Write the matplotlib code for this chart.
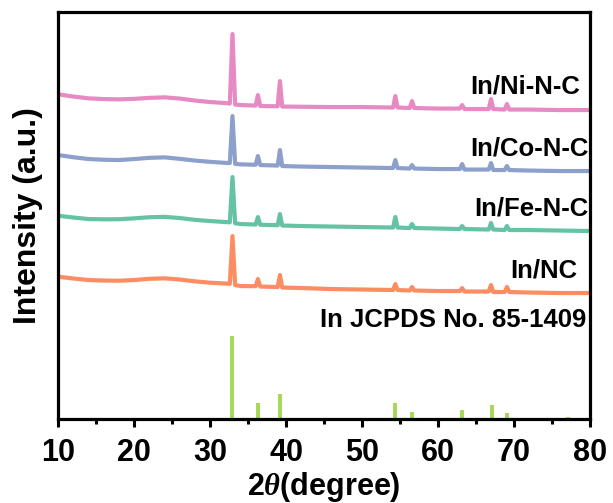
import matplotlib
matplotlib.use("Agg")
import matplotlib.pyplot as plt

plt.rcParams['font.family'] = ['Liberation Sans', 'DejaVu Sans']
plt.rcParams['font.weight'] = 'bold'
plt.rcParams['mathtext.fontset'] = 'custom'
plt.rcParams['mathtext.rm'] = 'Liberation Serif'
plt.rcParams['mathtext.it'] = 'Liberation Serif:italic'

# 2theta sample points (deg), shared by all patterns
two_theta = [10, 12, 14, 16, 18, 20, 22, 24, 26, 28, 30, 32,
             32.6, 32.95, 33.3, 34,
             36.0, 36.3, 36.6, 38.9, 39.2, 39.5, 42, 46, 50,
             54.1, 54.4, 54.7, 56.3, 56.6, 56.9, 60, 62.9, 63.2, 63.5,
             66.7, 67.0, 67.3, 68.8, 69.1, 69.4, 72, 76, 80]

# intensities (a.u., already stacked)
in_nc = [142.3, 140.5, 139, 138.5, 138.3, 139, 140.2, 140.7, 139.5, 137.7, 136.3, 135.5,
         135.2, 183, 134, 133,
         132.8, 140, 132.5, 132, 144, 131.5, 131, 130, 129.5,
         129, 135, 129, 128.5, 132, 128.5, 128, 128, 131, 127.5,
         127.5, 134, 127, 127, 132, 127, 126.5, 126, 126]
in_fe = [203.3, 201.5, 200, 199.7, 199.8, 200.7, 201.8, 202.2, 201, 199.2, 198, 197,
         196.7, 242, 195.8, 195,
         194.5, 202, 194.3, 193.8, 205, 193.5, 193, 192.5, 192,
         191.5, 202, 191.5, 191, 195, 191, 190.5, 190, 193, 190,
         189.5, 196, 189.5, 189, 193, 189, 189, 188.5, 188]
in_co = [264, 261.8, 260, 259.3, 259, 260, 261.2, 261.7, 260.2, 258.5, 257.2, 256.2,
         256, 303, 255.2, 254.7,
         254.3, 263, 254, 253.5, 269, 253, 252.5, 252, 251.5,
         251, 259, 251, 250.5, 254, 250.5, 250, 250, 255, 249.5,
         249.5, 256, 249, 249, 253, 249, 248.5, 248, 248]
in_ni = [324.7, 322.5, 320.7, 320, 319.7, 320.2, 321.2, 321.7, 320.5, 318.5, 317, 316,
         315.5, 385, 314.5, 314,
         313.5, 324, 313, 312.8, 338, 312.5, 312.3, 312, 312,
         311.5, 323, 311.5, 311, 318, 311, 310.5, 310.5, 314, 310,
         310, 320, 310, 309.5, 315, 309.5, 309.5, 309, 309]

# reference card In JCPDS 85-1409
ref_pos = [32.95, 36.3, 39.2, 54.4, 56.6, 63.2, 67.1, 69.1, 77.2]
ref_int = [83, 16, 25, 16, 7, 9, 14, 6, 2]

fig = plt.figure(figsize=(6.13, 5.03), dpi=100)
ax = fig.add_axes([0.095, 0.167, 0.867, 0.809])

ax.plot(two_theta, in_nc, color='#FC8D62', lw=3)
ax.plot(two_theta, in_fe, color='#66C2A5', lw=3)
ax.plot(two_theta, in_co, color='#8DA0CB', lw=3)
ax.plot(two_theta, in_ni, color='#E78AC3', lw=3)
ax.vlines(ref_pos, 0, ref_int, color='#A6D854', lw=2.8)

fs = 18.5
ax.text(78.7, 333, 'In/Ni-N-C', ha='right', va='center', fontsize=fs, fontweight='bold')
ax.text(79.8, 271, 'In/Co-N-C', ha='right', va='center', fontsize=fs, fontweight='bold')
ax.text(79.8, 211, 'In/Fe-N-C', ha='right', va='center', fontsize=fs, fontweight='bold')
ax.text(78.4, 149, 'In/NC', ha='right', va='center', fontsize=fs, fontweight='bold')
ax.text(79.6, 99, 'In JCPDS No. 85-1409', ha='right', va='center', fontsize=fs, fontweight='bold')

ax.set_xlim(10, 80)
ax.set_ylim(0, 407)
ax.set_xticks(range(10, 81, 10))
ax.set_xticks(range(15, 80, 10), minor=True)
ax.set_yticks([])
ax.tick_params(axis='x', which='major', direction='out', length=6, width=2.2,
               labelsize=22, pad=8)
ax.tick_params(axis='x', which='minor', direction='out', length=3.5, width=2.2)
for lab in ax.get_xticklabels():
    lab.set_fontweight('bold')
for sp in ax.spines.values():
    sp.set_linewidth(2.3)

ax.set_xlabel(r'2$\theta$(degree)', fontsize=22, fontweight='bold', labelpad=1)
ax.set_ylabel('Intensity (a.u.)', fontsize=23, fontweight='bold', labelpad=11)

fig.savefig('out.png', dpi=100)
